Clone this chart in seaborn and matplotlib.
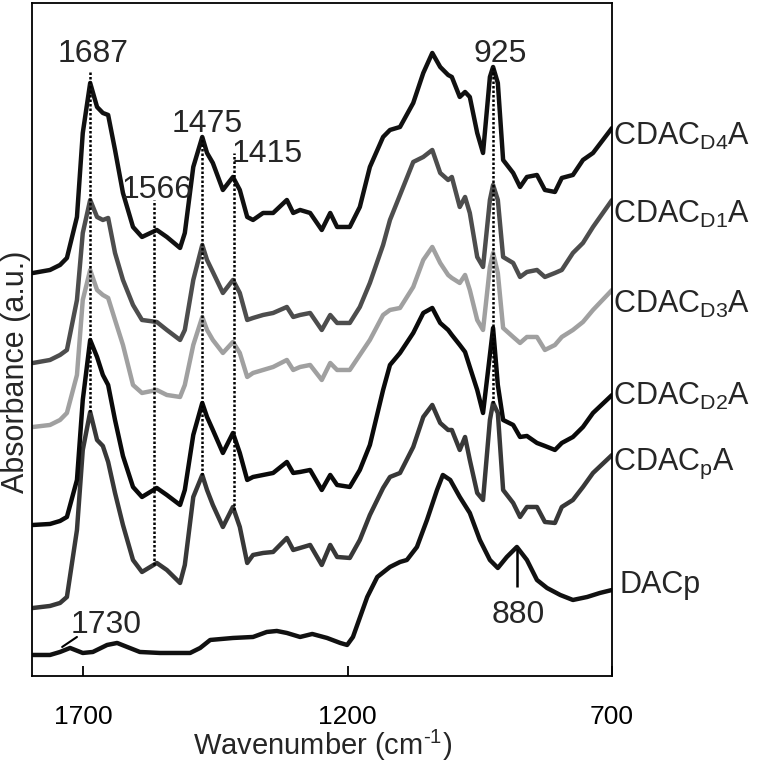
import numpy as np
import pandas as pd
import matplotlib
matplotlib.use("Agg")
import matplotlib.pyplot as plt
import seaborn as sns

# FTIR spectra (wavenumber in cm-1, absorbance in a.u., stacked)
wavenumber = [1795, 1763, 1744, 1731, 1712, 1701, 1687, 1674, 1663, 1653,
              1640, 1625, 1606, 1589, 1561, 1542, 1517, 1508, 1492, 1475,
              1466, 1455, 1436, 1417, 1404, 1390, 1379, 1360, 1341, 1315,
              1303, 1290, 1271, 1249, 1233, 1220, 1196, 1177, 1158, 1133,
              1120, 1101, 1076, 1057, 1040, 1025, 1010, 1003, 988, 978,
              969, 955, 944, 931, 925, 916, 906, 887, 874, 861,
              842, 827, 808, 795, 774, 755, 736, 700]

cdac_d4a = [4.03, 4.06, 4.11, 4.18, 4.59, 5.43, 5.93, 5.69, 5.63, 5.61,
            5.26, 4.83, 4.49, 4.39, 4.46, 4.39, 4.28, 4.43, 5.09, 5.39,
            5.23, 5.13, 4.86, 4.99, 4.86, 4.59, 4.56, 4.63, 4.63, 4.76,
            4.63, 4.66, 4.63, 4.46, 4.63, 4.49, 4.49, 4.69, 5.09, 5.39,
            5.46, 5.49, 5.73, 6.03, 6.23, 6.09, 6.01, 5.99, 5.79, 5.84,
            5.79, 5.43, 5.23, 5.99, 6.09, 5.93, 5.16, 5.03, 4.89, 4.99,
            5.01, 4.86, 4.84, 4.98, 5.01, 5.16, 5.23, 5.48]

cdac_d1a = [3.13, 3.16, 3.21, 3.26, 3.76, 4.43, 4.76, 4.59, 4.56, 4.58,
            4.23, 3.96, 3.71, 3.56, 3.54, 3.46, 3.36, 3.46, 3.96, 4.31,
            4.16, 4.04, 3.83, 3.96, 3.83, 3.56, 3.58, 3.61, 3.63, 3.69,
            3.59, 3.61, 3.63, 3.46, 3.61, 3.53, 3.53, 3.69, 3.93, 4.31,
            4.56, 4.81, 5.14, 5.19, 5.26, 5.03, 4.96, 4.99, 4.69, 4.79,
            4.63, 4.19, 4.09, 4.76, 4.91, 4.76, 4.19, 4.13, 3.99, 4.04,
            4.06, 3.99, 4.03, 4.06, 4.23, 4.33, 4.49, 4.76]

cdac_d3a = [2.49, 2.51, 2.56, 2.63, 3.01, 3.76, 4.06, 3.86, 3.81, 3.78,
            3.56, 3.31, 2.91, 2.83, 2.86, 2.81, 2.79, 2.91, 3.31, 3.59,
            3.46, 3.36, 3.23, 3.34, 3.23, 2.99, 3.03, 3.06, 3.09, 3.16,
            3.06, 3.09, 3.11, 2.96, 3.13, 3.06, 3.06, 3.21, 3.36, 3.61,
            3.66, 3.68, 3.89, 4.16, 4.29, 4.13, 4.01, 3.98, 3.93, 4.01,
            3.86, 3.56, 3.46, 4.09, 4.23, 4.03, 3.48, 3.39, 3.33, 3.39,
            3.39, 3.26, 3.31, 3.39, 3.46, 3.54, 3.66, 3.86]

cdac_d2a = [1.51, 1.52, 1.55, 1.59, 1.96, 2.76, 3.36, 3.19, 3.01, 2.91,
            2.56, 2.20, 1.89, 1.79, 1.88, 1.81, 1.71, 1.86, 2.41, 2.73,
            2.59, 2.46, 2.23, 2.43, 2.23, 1.96, 1.99, 2.01, 2.03, 2.14,
            2.03, 2.04, 2.06, 1.86, 2.01, 1.91, 1.89, 2.06, 2.31, 2.86,
            3.11, 3.23, 3.43, 3.63, 3.68, 3.53, 3.46, 3.41, 3.31, 3.24,
            3.09, 2.86, 2.63, 3.21, 3.48, 2.91, 2.56, 2.51, 2.39, 2.40,
            2.33, 2.30, 2.26, 2.33, 2.39, 2.49, 2.63, 2.81]

cdac_pa = [0.68, 0.70, 0.73, 0.79, 1.46, 2.26, 2.64, 2.36, 2.30, 2.14,
           1.83, 1.51, 1.16, 1.04, 1.13, 1.06, 0.93, 1.11, 1.79, 2.01,
           1.86, 1.71, 1.49, 1.69, 1.49, 1.13, 1.21, 1.23, 1.24, 1.38,
           1.26, 1.28, 1.31, 1.11, 1.31, 1.19, 1.18, 1.36, 1.61, 1.88,
           1.99, 2.03, 2.29, 2.59, 2.71, 2.53, 2.46, 2.46, 2.26, 2.39,
           2.16, 1.83, 1.76, 2.56, 2.73, 2.63, 1.86, 1.73, 1.59, 1.69,
           1.69, 1.54, 1.53, 1.69, 1.76, 1.89, 2.03, 2.21]

dacp_wavenumber = [1795, 1763, 1744, 1725, 1701, 1682, 1655, 1636, 1617, 1593,
                   1555, 1498, 1479, 1460, 1417, 1379, 1353, 1334, 1315, 1290,
                   1267, 1239, 1214, 1201, 1190, 1163, 1144, 1120, 1101, 1088,
                   1069, 1050, 1031, 1020, 1006, 988, 969, 950, 931, 916,
                   899, 880, 861, 842, 823, 798, 774, 747, 723, 700]
dacp = [0.21, 0.21, 0.24, 0.28, 0.23, 0.24, 0.31, 0.33, 0.29, 0.24,
        0.23, 0.23, 0.28, 0.36, 0.38, 0.39, 0.44, 0.45, 0.43, 0.39,
        0.42, 0.38, 0.33, 0.31, 0.39, 0.79, 0.99, 1.09, 1.14, 1.16,
        1.29, 1.56, 1.86, 2.01, 1.96, 1.79, 1.63, 1.36, 1.16, 1.08,
        1.19, 1.29, 1.16, 0.96, 0.88, 0.81, 0.76, 0.79, 0.83, 0.86]

sample_names = ["CDAC$_{\\mathrm{D4}}$A", "CDAC$_{\\mathrm{D1}}$A", "CDAC$_{\\mathrm{D3}}$A",
                "CDAC$_{\\mathrm{D2}}$A", "CDAC$_{\\mathrm{p}}$A", "DACp"]
sample_colors = ["#111111", "#4d4d4d", "#a0a0a0", "#0a0a0a", "#383838", "#111111"]
label_baselines = [5.31, 4.53, 3.63, 2.71, 2.06, 0.83]
label_offsets = [0.7, 0.7, 0.7, 0.7, 0.7, 5.5]

# marked bands
peak_positions = [1687, 1566, 1475, 1415, 925]
peak_texts = ["1687", "1566", "1475", "1415", "925"]
peak_text_x = [1682, 1561, 1466, 1353, 912]
peak_text_y = [6.14, 4.78, 5.44, 5.14, 6.14]
peak_line_tops = [6.06, 4.76, 5.39, 5.23, 6.09]

# long table for seaborn
spectra = [cdac_d4a, cdac_d1a, cdac_d3a, cdac_d2a, cdac_pa]
frames = [pd.DataFrame({"wavenumber": wavenumber, "absorbance": s, "sample": n})
          for s, n in zip(spectra, sample_names[:5])]
frames.append(pd.DataFrame({"wavenumber": dacp_wavenumber, "absorbance": dacp,
                            "sample": sample_names[5]}))
df = pd.concat(frames, ignore_index=True)

sns.set_style("ticks")
plt.rcParams["font.family"] = ["Liberation Sans", "DejaVu Sans"]
plt.rcParams["mathtext.fontset"] = "custom"
plt.rcParams["mathtext.rm"] = "Liberation Sans"
plt.rcParams["mathtext.it"] = "Liberation Sans:italic"
plt.rcParams["mathtext.bf"] = "Liberation Sans:bold"
plt.rcParams["lines.solid_joinstyle"] = "round"
plt.rcParams["lines.solid_capstyle"] = "round"

fig = plt.figure(figsize=(7.64, 7.62), dpi=100)
ax = fig.add_axes([0.0419, 0.1129, 0.7592, 0.8832])

draw_order = sample_names[::-1]
sns.lineplot(data=df, x="wavenumber", y="absorbance", hue="sample",
             hue_order=draw_order, palette=dict(zip(sample_names, sample_colors)),
             estimator=None, errorbar=None, linewidth=3.2, legend=False, ax=ax)

ax.set_xlim(1797, 700)
ax.set_ylim(0, 6.73)
ax.set_xticks([1700, 1200, 700])
ax.set_yticks([])
ax.tick_params(axis="x", direction="in", length=7, width=1.3, pad=21,
               labelsize=19, colors="black")
for spine in ax.spines.values():
    spine.set_visible(True)
    spine.set_linewidth(1.3)
    spine.set_color("black")

ax.set_xlabel("Wavenumber (cm$^{\\text{-}1}$)", fontsize=21, labelpad=-1)
ax.set_ylabel("Absorbance (a.u.)", fontsize=22)
ax.yaxis.set_label_coords(-0.002, 0.452)

# dotted guide lines down to the CDACpA trace
wn_inc = wavenumber[::-1]
pa_inc = cdac_pa[::-1]
line_bottoms = [np.interp(p, wn_inc, pa_inc) for p in peak_positions]
ax.vlines(peak_positions, line_bottoms, peak_line_tops, colors="black",
          linestyles=(0, (1.0, 0.8)), linewidth=1.8, zorder=5)
for txt, x, y in zip(peak_texts, peak_text_x, peak_text_y):
    ax.text(x, y, txt, ha="center", va="baseline", fontsize=23)

# DACp markers
ax.vlines(880, 0.89, 1.27, colors="black", linewidth=1.8)
ax.text(878, 0.53, "880", ha="center", va="baseline", fontsize=23)
ax.plot([1740, 1712], [0.29, 0.39], color="black", linewidth=1.5)
ax.text(1657, 0.43, "1730", ha="center", va="baseline", fontsize=23)

for name, y, dx in zip(sample_names, label_baselines, label_offsets):
    ax.annotate(name, xy=(700, y), xytext=(dx, 0), textcoords="offset points",
                ha="left", va="baseline", fontsize=22, annotation_clip=False)

fig.savefig("out.png", dpi=100)
